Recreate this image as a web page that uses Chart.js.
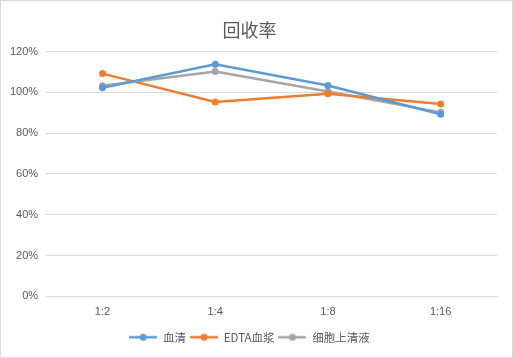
<!DOCTYPE html>
<html><head><meta charset="utf-8">
<script src="https://cdn.jsdelivr.net/npm/chart.js@4"></script>
<style>html,body{margin:0;padding:0;background:#fff}#wrap{width:513px;height:358px}</style>
</head><body><div id="wrap"><canvas id="c" width="513" height="358"></canvas></div>
<script>
const categories = ['1:2', '1:4', '1:8', '1:16'];
const seriesNames = ['血清', 'EDTA血浆', '细胞上清液'];
const serum = [1.023, 1.138, 1.034, 0.893];
const edtaPlasma = [1.092, 0.953, 0.993, 0.943];
const cellSupernatant = [1.032, 1.102, 1.004, 0.902];
const yTicks = [0, 0.2, 0.4, 0.6, 0.8, 1.0, 1.2];
const colors = ['#5B9BD5', '#ED7D31', '#A5A5A5'];

function legendIcon(color) {
  const cv = document.createElement('canvas');
  cv.width = 28; cv.height = 10;
  const g = cv.getContext('2d');
  g.strokeStyle = color; g.lineWidth = 2.5;
  g.beginPath(); g.moveTo(0, 5); g.lineTo(28, 5); g.stroke();
  g.fillStyle = color; g.beginPath(); g.arc(14, 5, 3.5, 0, Math.PI * 2); g.fill();
  return cv;
}
const icons = colors.map(legendIcon);

const border = {
  id: 'border',
  afterDraw(chart) {
    const ctx = chart.ctx;
    ctx.save(); ctx.strokeStyle = '#d9d9d9'; ctx.lineWidth = 1;
    ctx.strokeRect(0.5, 0.5, chart.width - 1, chart.height - 1);
    ctx.restore();
  }
};

const data = [serum, edtaPlasma, cellSupernatant];
new Chart(document.getElementById('c'), {
  type: 'line',
  data: {
    labels: categories,
    datasets: seriesNames.map((n, i) => ({
      label: n, data: data[i], borderColor: colors[i], backgroundColor: colors[i],
      borderWidth: 2.5, pointRadius: 3.5, pointBackgroundColor: colors[i], pointBorderWidth: 0,
      tension: 0, fill: false
    }))
  },
  options: {
    responsive: false, animation: false, devicePixelRatio: 1,
    layout: { padding: { left: 2, right: 16, top: 10, bottom: 5 } },
    plugins: {
      title: { display: true, text: '回收率', color: '#595959',
        font: { family: '"Noto Sans CJK SC", sans-serif', size: 18, weight: 'normal' },
        padding: { top: 9, bottom: 11 } },
      legend: { position: 'bottom',
        labels: { color: '#595959', font: { family: '"Noto Sans CJK SC", "Liberation Sans", sans-serif', size: 11.5 },
          usePointStyle: true, pointStyleWidth: 28, boxWidth: 28, boxHeight: 10, padding: 4,
          generateLabels(chart) {
            return chart.data.datasets.map((d, i) => ({
              text: d.label, fillStyle: colors[i], strokeStyle: colors[i], pointStyle: icons[i],
              fontColor: '#595959', lineWidth: 0, hidden: false, datasetIndex: i
            }));
          } } },
      tooltip: { enabled: false }
    },
    scales: {
      x: { offset: true, grid: { display: false }, border: { display: true, color: '#d9d9d9' },
        afterFit(axis) { axis.height += 8; },
        ticks: { color: '#595959', font: { family: '"Liberation Sans", sans-serif', size: 11 }, padding: 1 } },
      y: { min: 0, max: 1.2, border: { display: false },
        grid: { color: '#d9d9d9', drawTicks: false },
        afterBuildTicks(axis) { axis.ticks = yTicks.map(v => ({ value: v })); },
        ticks: { color: '#595959', font: { family: '"Liberation Sans", sans-serif', size: 11 }, padding: 8,
          callback: v => Math.round(v * 100) + '%' } }
    }
  },
  plugins: [border]
});
</script></body></html>
